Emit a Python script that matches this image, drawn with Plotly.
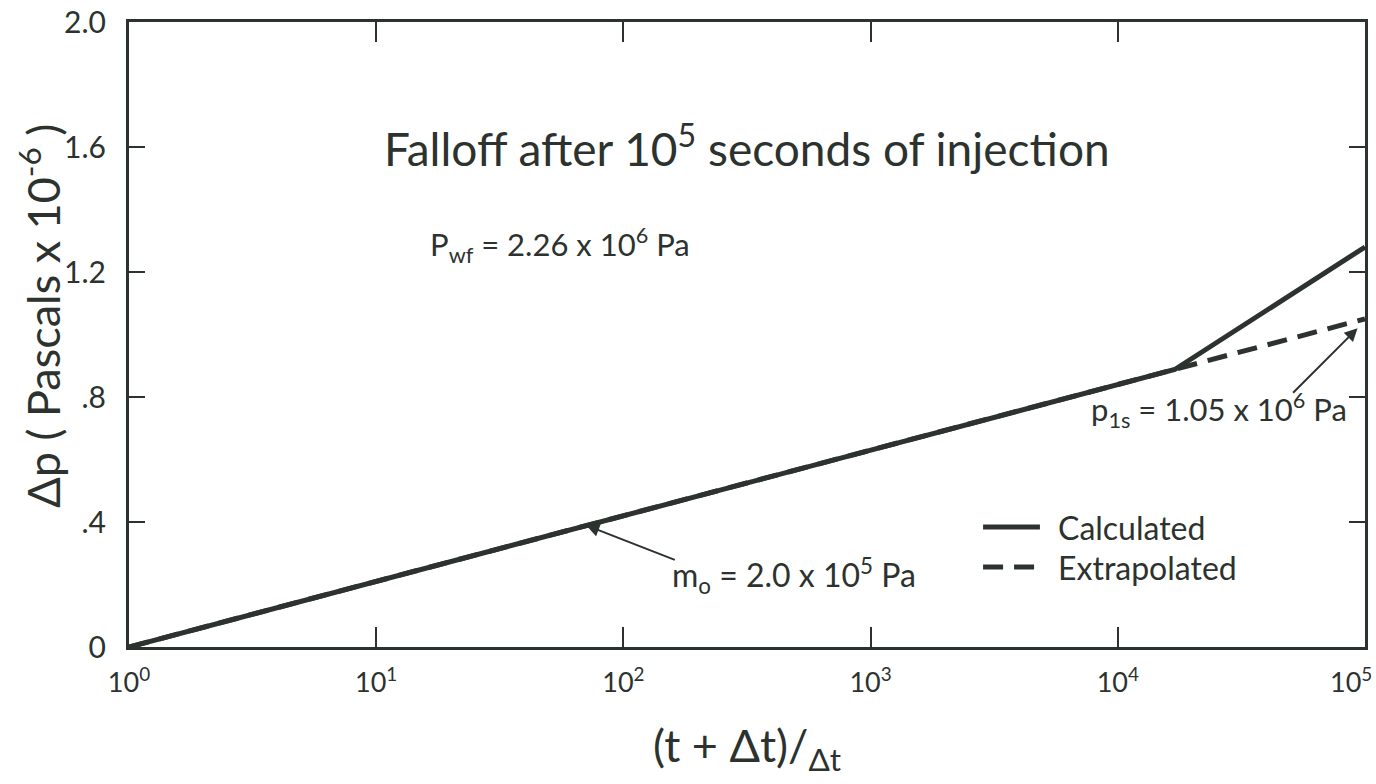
import plotly.graph_objects as go

# Pressure falloff: dimensionless time ratio vs pressure change (Pa x 10^-6)
time_ratio = [1, 10, 100, 1000, 10000, 17000, 100000]
calculated = [0.0, 0.21, 0.42, 0.63, 0.84, 0.888, 1.28]
extrapolated = [0.0, 0.21, 0.42, 0.63, 0.84, 0.888, 1.05]

x_ticks = [1, 10, 100, 1000, 10000, 100000]
x_ticktext = ["10<sup>0</sup>", "10<sup>1</sup>", "10<sup>2</sup>",
              "10<sup>3</sup>", "10<sup>4</sup>",
              "10<sup>5</sup>&nbsp;&nbsp;&nbsp;&nbsp;"]
y_ticks = [0, 0.4, 0.8, 1.2, 1.6, 2.0]
y_ticktext = ["0", ".4", ".8", "1.2", "1.6", "2.0"]

INK = "#2c322e"
FONT = "Lato"

fig = go.Figure()
fig.add_trace(go.Scatter(x=time_ratio, y=extrapolated, mode="lines",
                         name="Extrapolated",
                         line=dict(color=INK, width=5, dash="20px,11px")))
fig.add_trace(go.Scatter(x=time_ratio, y=calculated, mode="lines",
                         name="Calculated",
                         line=dict(color=INK, width=5)))

axis_common = dict(showgrid=False, zeroline=False, showline=True,
                   linecolor=INK, linewidth=3, ticks="inside",
                   tickcolor=INK, tickwidth=2, mirror="ticks",
                   ticklabeloverflow="allow", automargin=False)

fig.update_xaxes(type="log", range=[0, 5], tickvals=x_ticks,
                 ticktext=x_ticktext, ticklen=20, ticklabelstandoff=10,
                 tickfont=dict(family=FONT, size=27, color=INK),
                 **axis_common)
fig.update_yaxes(range=[0, 2.0], tickvals=y_ticks, ticktext=y_ticktext,
                 ticklen=16, ticklabelstandoff=14,
                 tickfont=dict(family=FONT, size=30, color=INK),
                 **axis_common)


def label(text, x, y, size, xanchor="left", **kw):
    return dict(text=text, x=x, y=y, xref="paper", yref="paper",
                xanchor=xanchor, yanchor="middle", showarrow=False,
                font=dict(family=FONT, size=size, color=INK), **kw)


annotations = [
    label("Falloff after 10<sup>5</sup> seconds of injection",
          0.5, 0.803, 46, xanchor="center"),
    label("P<sub>wf</sub> = 2.26 x 10<sup>6</sup> Pa", 0.242, 0.643, 31),
    label("p<sub>1s</sub> = 1.05 x 10<sup>6</sup> Pa", 0.777, 0.379, 31),
    label("m<sub>o</sub> = 2.0 x 10<sup>5</sup> Pa", 0.438, 0.115, 32),
    # arrows to the line
    dict(text="", x=1.85, y=0.389, xref="x", yref="y",
         ax=90, ay=35, showarrow=True,
         arrowhead=2, arrowsize=1.3, arrowwidth=2, arrowcolor=INK),
    dict(text="", x=4.97, y=1.02, xref="x", yref="y",
         ax=-66, ay=66, showarrow=True,
         arrowhead=2, arrowsize=1.3, arrowwidth=2, arrowcolor=INK),
    # axis titles
    label("Δp ( Pascals x 10<sup>-6</sup> )", -0.072, 0.53, 45,
          xanchor="center", textangle=-90),
    label("(t + Δt)/<sub>Δt</sub>", 0.5, -0.162, 45, xanchor="center"),
    # legend labels
    label("Calculated", 0.750, 0.192, 32),
    label("Extrapolated", 0.750, 0.128, 32),
]

shapes = [
    dict(type="line", xref="paper", yref="paper", x0=0.691, x1=0.737,
         y0=0.192, y1=0.192, line=dict(color=INK, width=5)),
    dict(type="line", xref="paper", yref="paper", x0=0.691, x1=0.737,
         y0=0.128, y1=0.128, line=dict(color=INK, width=5, dash="20px,11px")),
]

fig.update_layout(width=1376, height=784, showlegend=False,
                  margin=dict(l=129, r=11, t=22, b=137),
                  paper_bgcolor="white", plot_bgcolor="white",
                  annotations=annotations, shapes=shapes)

fig.write_html("out.html")
